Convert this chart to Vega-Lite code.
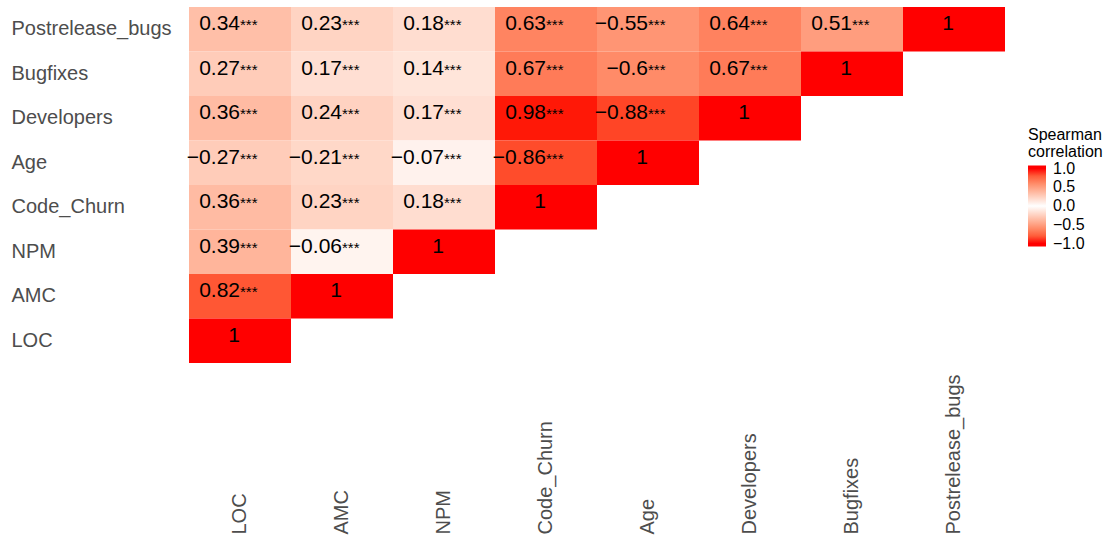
{
  "$schema": "https://vega.github.io/schema/vega-lite/v6.json",
  "width": 816,
  "height": 356,
  "autosize": "none",
  "padding": {"left": 189, "top": 7, "right": 106, "bottom": 174},
  "background": "white",
  "config": {
    "font": "Liberation Sans",
    "view": {"stroke": null}
  },
  "data": {
    "values": [
      {"col": "LOC", "row": "Postrelease_bugs", "r": 0.34, "sig": "***"},
      {"col": "AMC", "row": "Postrelease_bugs", "r": 0.23, "sig": "***"},
      {"col": "NPM", "row": "Postrelease_bugs", "r": 0.18, "sig": "***"},
      {"col": "Code_Churn", "row": "Postrelease_bugs", "r": 0.63, "sig": "***"},
      {"col": "Age", "row": "Postrelease_bugs", "r": -0.55, "sig": "***"},
      {"col": "Developers", "row": "Postrelease_bugs", "r": 0.64, "sig": "***"},
      {"col": "Bugfixes", "row": "Postrelease_bugs", "r": 0.51, "sig": "***"},
      {"col": "Postrelease_bugs", "row": "Postrelease_bugs", "r": 1, "sig": ""},

      {"col": "LOC", "row": "Bugfixes", "r": 0.27, "sig": "***"},
      {"col": "AMC", "row": "Bugfixes", "r": 0.17, "sig": "***"},
      {"col": "NPM", "row": "Bugfixes", "r": 0.14, "sig": "***"},
      {"col": "Code_Churn", "row": "Bugfixes", "r": 0.67, "sig": "***"},
      {"col": "Age", "row": "Bugfixes", "r": -0.6, "sig": "***"},
      {"col": "Developers", "row": "Bugfixes", "r": 0.67, "sig": "***"},
      {"col": "Bugfixes", "row": "Bugfixes", "r": 1, "sig": ""},

      {"col": "LOC", "row": "Developers", "r": 0.36, "sig": "***"},
      {"col": "AMC", "row": "Developers", "r": 0.24, "sig": "***"},
      {"col": "NPM", "row": "Developers", "r": 0.17, "sig": "***"},
      {"col": "Code_Churn", "row": "Developers", "r": 0.98, "sig": "***"},
      {"col": "Age", "row": "Developers", "r": -0.88, "sig": "***"},
      {"col": "Developers", "row": "Developers", "r": 1, "sig": ""},

      {"col": "LOC", "row": "Age", "r": -0.27, "sig": "***"},
      {"col": "AMC", "row": "Age", "r": -0.21, "sig": "***"},
      {"col": "NPM", "row": "Age", "r": -0.07, "sig": "***"},
      {"col": "Code_Churn", "row": "Age", "r": -0.86, "sig": "***"},
      {"col": "Age", "row": "Age", "r": 1, "sig": ""},

      {"col": "LOC", "row": "Code_Churn", "r": 0.36, "sig": "***"},
      {"col": "AMC", "row": "Code_Churn", "r": 0.23, "sig": "***"},
      {"col": "NPM", "row": "Code_Churn", "r": 0.18, "sig": "***"},
      {"col": "Code_Churn", "row": "Code_Churn", "r": 1, "sig": ""},

      {"col": "LOC", "row": "NPM", "r": 0.39, "sig": "***"},
      {"col": "AMC", "row": "NPM", "r": -0.06, "sig": "***"},
      {"col": "NPM", "row": "NPM", "r": 1, "sig": ""},

      {"col": "LOC", "row": "AMC", "r": 0.82, "sig": "***"},
      {"col": "AMC", "row": "AMC", "r": 1, "sig": ""},

      {"col": "LOC", "row": "LOC", "r": 1, "sig": ""}
    ]
  },
  "encoding": {
    "x": {
      "field": "col",
      "type": "nominal",
      "sort": ["LOC", "AMC", "NPM", "Code_Churn", "Age", "Developers", "Bugfixes", "Postrelease_bugs"],
      "scale": {"paddingInner": 0, "paddingOuter": 0},
      "axis": {
        "title": null,
        "domain": false,
        "ticks": false,
        "tickSize": 0,
        "grid": false,
        "labelAngle": 270,
        "labelAlign": "left",
        "labelBaseline": "middle",
        "labelPadding": 171,
        "labelFontSize": 20,
        "labelColor": "#4D4D4D",
        "labelLimit": 300
      }
    },
    "y": {
      "field": "row",
      "type": "nominal",
      "sort": ["Postrelease_bugs", "Bugfixes", "Developers", "Age", "Code_Churn", "NPM", "AMC", "LOC"],
      "scale": {"paddingInner": 0, "paddingOuter": 0},
      "axis": {
        "title": null,
        "domain": false,
        "ticks": false,
        "tickSize": 0,
        "grid": false,
        "labelAlign": "left",
        "labelBaseline": "middle",
        "labelPadding": 178,
        "labelFontSize": 20,
        "labelColor": "#4D4D4D",
        "labelLimit": 300
      }
    }
  },
  "layer": [
    {
      "mark": {"type": "rect"},
      "encoding": {
        "color": {
          "field": "r",
          "type": "quantitative",
          "scale": {
            "domain": [-1.08, -1, 0, 1, 1.08],
            "range": ["#FF0000", "#FF0000", "#FFFFFF", "#FF0000", "#FF0000"],
            "interpolate": "lab"
          },
          "legend": {
            "orient": "none",
            "legendX": 839,
            "legendY": 120,
            "padding": 0,
            "direction": "vertical",
            "title": ["Spearman", "correlation"],
            "titleFontSize": 16,
            "titleFontWeight": "normal",
            "titleColor": "black",
            "titleLineHeight": 16.5,
            "titlePadding": 6,
            "gradientLength": 81,
            "gradientThickness": 18,
            "gradientStrokeWidth": 0,
            "values": [-1, -0.5, 0, 0.5, 1],
            "format": ".1f",
            "labelFontSize": 16,
            "labelColor": "black",
            "labelOffset": 7,
            "labelOverlap": false
          }
        }
      }
    },
    {
      "mark": {"type": "text", "align": "right", "baseline": "alphabetic", "dy": 1, "fontSize": 21, "color": "black"},
      "encoding": {
        "text": {"field": "r", "type": "quantitative", "format": ".2~f"}
      }
    },
    {
      "mark": {"type": "text", "align": "left", "baseline": "alphabetic", "dy": 1, "fontSize": 15, "color": "black"},
      "encoding": {
        "text": {"field": "sig", "type": "nominal"}
      }
    }
  ]
}
